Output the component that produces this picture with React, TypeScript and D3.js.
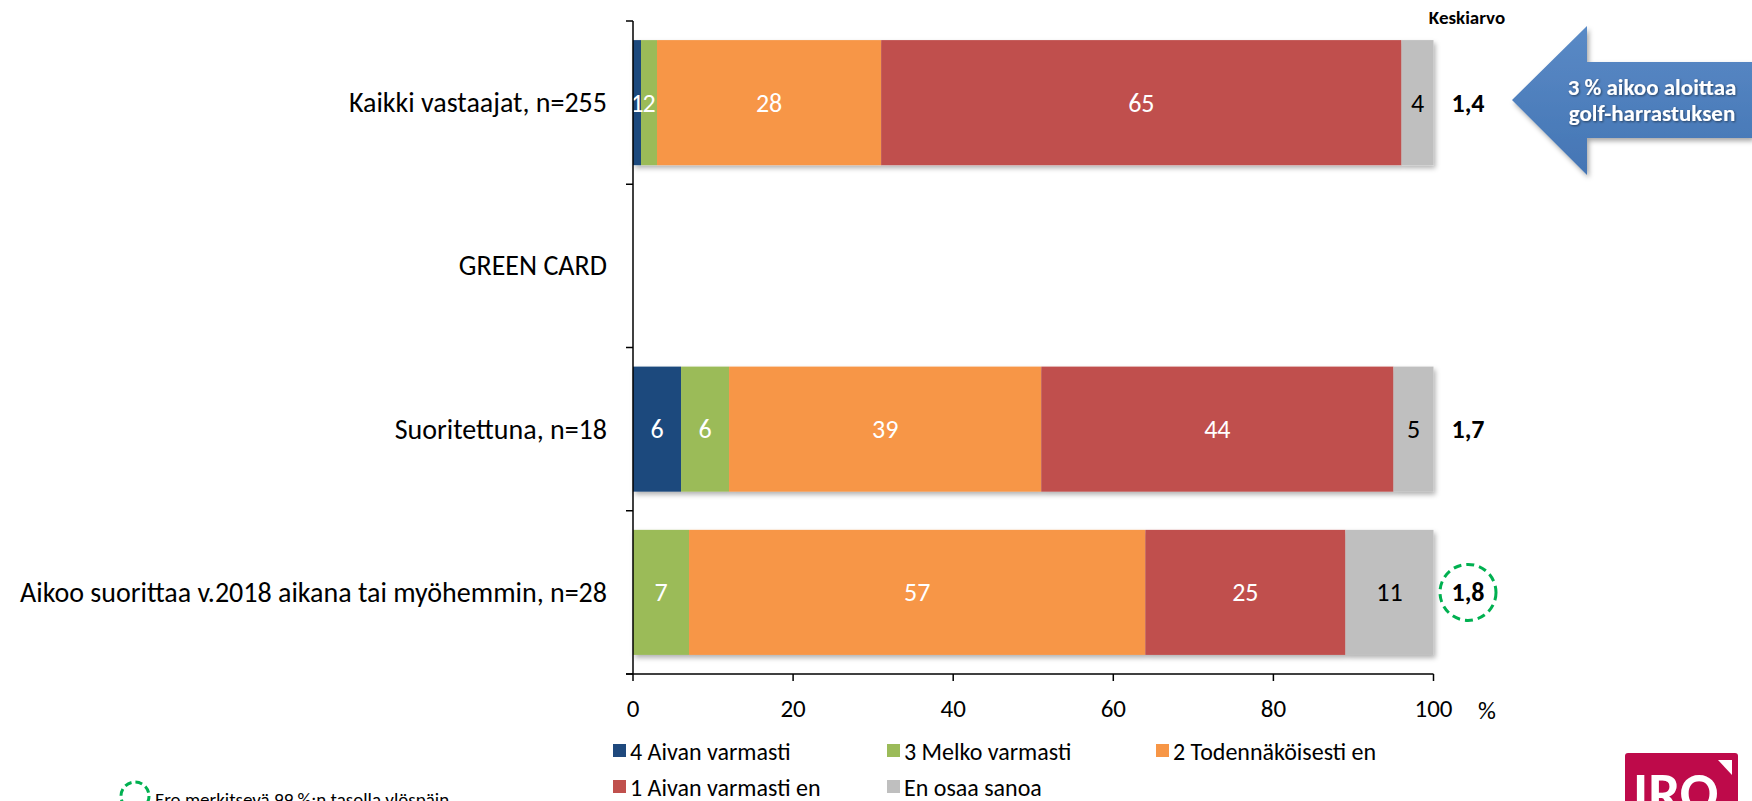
import React from "react";
import * as d3 from "d3";

const categories = [
  "Kaikki vastaajat, n=255",
  "GREEN CARD",
  "Suoritettuna, n=18",
  "Aikoo suorittaa v.2018 aikana tai myöhemmin, n=28",
];
const seriesNames = [
  "4 Aivan varmasti",
  "3 Melko varmasti",
  "2 Todennäköisesti en",
  "1 Aivan varmasti en",
  "En osaa sanoa",
];
const seriesColors = ["#1F497D", "#9BBB59", "#F79646", "#C0504D", "#BFBFBF"];
const labelColors = ["#fff", "#fff", "#fff", "#fff", "#000"];
// values per category (null = no bar)
const vals4 = [1, null, 6, 0];
const vals3 = [2, null, 6, 7];
const vals2 = [28, null, 39, 57];
const vals1 = [65, null, 44, 25];
const valsEos = [4, null, 5, 11];
const means = ["1,4", "", "1,7", "1,8"];
const significant = [false, false, false, true];
const xTicks = [0, 20, 40, 60, 80, 100];

const FONT = "Carlito, Lato, 'Open Sans', sans-serif";

export default function App() {
  const W = 1752;
  const H = 801;
  const x = d3.scaleLinear().domain([0, 100]).range([633, 1433.5]);
  const y = d3
    .scaleBand<string>()
    .domain(categories)
    .range([21, 674])
    .paddingInner(0.234)
    .paddingOuter(0.117);
  const tickY = d3
    .scaleLinear()
    .domain([0, categories.length])
    .range([21, 674]);
  const series = [vals4, vals3, vals2, vals1, valsEos];

  const bars: React.ReactNode[] = [];
  const labels: React.ReactNode[] = [];
  categories.forEach((cat, ci) => {
    let cum = 0;
    const y0 = y(cat)!;
    const bw = y.bandwidth();
    series.forEach((s, si) => {
      const v = s[ci];
      if (v == null) return;
      const x0 = x(cum);
      const x1 = x(cum + v);
      cum += v;
      if (v <= 0) return;
      bars.push(
        <rect
          key={`b${ci}-${si}`}
          x={x0}
          y={y0}
          width={x1 - x0}
          height={bw}
          fill={seriesColors[si]}
        />
      );
      labels.push(
        <text
          key={`l${ci}-${si}`}
          x={(x0 + x1) / 2}
          y={y0 + bw / 2}
          textAnchor="middle"
          dominantBaseline="central"
          fill={labelColors[si]}
          fontSize={26}
          fontFamily={FONT}
        >
          {v}
        </text>
      );
    });
  });

  const legendCols = [613, 887, 1156];
  const legendRows = [751, 787];

  return (
    <svg width={W} height={H} style={{ position: "absolute", left: 0, top: 0 }}>
      <defs>
        <filter id="sh" x="-5%" y="-20%" width="110%" height="150%">
          <feDropShadow dx="2" dy="3" stdDeviation="2.5" floodColor="#000" floodOpacity="0.3" />
        </filter>
        <filter id="ash" x="-10%" y="-10%" width="120%" height="130%">
          <feDropShadow dx="2" dy="3" stdDeviation="2.5" floodColor="#000" floodOpacity="0.35" />
        </filter>
        <filter id="tsh" x="-10%" y="-20%" width="120%" height="150%">
          <feDropShadow dx="1" dy="1" stdDeviation="0.8" floodColor="#000" floodOpacity="0.5" />
        </filter>
        <linearGradient id="ag" x1="0" y1="0" x2="0" y2="1">
          <stop offset="0" stopColor="#5A8AC6" />
          <stop offset="1" stopColor="#4475B4" />
        </linearGradient>
      </defs>
      <rect x={0} y={0} width={W} height={H} fill="#fff" />

      {/* bars */}
      <g filter="url(#sh)">{bars}</g>
      <g>{labels}</g>

      {/* y axis */}
      <line x1={633} x2={633} y1={tickY(0)} y2={tickY(4)} stroke="#000" strokeWidth={1.5} />
      {d3.range(0, 5).map((i) => (
        <line key={`yt${i}`} x1={626} x2={633} y1={tickY(i)} y2={tickY(i)} stroke="#000" strokeWidth={1.5} />
      ))}
      {/* x axis */}
      <line x1={626} x2={x(100)} y1={674} y2={674} stroke="#000" strokeWidth={1.5} />
      {xTicks.map((t) => (
        <g key={`xt${t}`}>
          <line x1={x(t)} x2={x(t)} y1={674} y2={681} stroke="#000" strokeWidth={1.5} />
          <text x={x(t)} y={708} textAnchor="middle" dominantBaseline="central" fontSize={25} fontFamily={FONT}>
            {t}
          </text>
        </g>
      ))}
      <text x={1487} y={710} textAnchor="middle" dominantBaseline="central" fontSize={25} fontFamily={FONT}>
        %
      </text>

      {/* category labels */}
      {categories.map((c) => (
        <text
          key={c}
          x={607}
          y={y(c)! + y.bandwidth() / 2}
          textAnchor="end"
          dominantBaseline="central"
          fontSize={28}
          fontFamily={FONT}
        >
          {c}
        </text>
      ))}

      {/* means */}
      <text x={1467} y={17} textAnchor="middle" dominantBaseline="central" fontSize={19} fontWeight="bold" fontFamily={FONT}>
        Keskiarvo
      </text>
      {categories.map((c, i) =>
        means[i] ? (
          <g key={`m${i}`}>
            <text
              x={1468}
              y={y(c)! + y.bandwidth() / 2}
              textAnchor="middle"
              dominantBaseline="central"
              fontSize={26}
              fontWeight="bold"
              fontFamily={FONT}
            >
              {means[i]}
            </text>
            {significant[i] && (
              <circle
                cx={1468}
                cy={y(c)! + y.bandwidth() / 2}
                r={28}
                fill="none"
                stroke="#00B050"
                strokeWidth={3}
                strokeDasharray="8 5"
              />
            )}
          </g>
        ) : null
      )}

      {/* arrow */}
      <g filter="url(#ash)">
        <polygon
          points="1512,100 1587,26 1587,62 1752,62 1752,138 1587,138 1587,175"
          fill="url(#ag)"
        />
      </g>
      <g filter="url(#tsh)" fill="#fff" fontWeight="bold" fontSize={23} fontFamily={FONT} textAnchor="middle">
        <text x={1652} y={87} dominantBaseline="central">3 % aikoo aloittaa</text>
        <text x={1652} y={113} dominantBaseline="central">golf-harrastuksen</text>
      </g>

      {/* legend */}
      {seriesNames.map((n, i) => {
        const col = i % 3;
        const row = Math.floor(i / 3);
        const lx = legendCols[col];
        const ly = legendRows[row];
        return (
          <g key={n}>
            <rect x={lx} y={ly - 7} width={13} height={13} fill={seriesColors[i]} />
            <text x={lx + 17} y={ly} dominantBaseline="central" fontSize={24} fontFamily={FONT}>
              {n}
            </text>
          </g>
        );
      })}

      {/* footnote */}
      <circle cx={135} cy={796} r={14} fill="none" stroke="#00B050" strokeWidth={3} strokeDasharray="7 4" />
      <text x={155} y={806} fontSize={19} fontFamily={FONT}>
        Ero merkitsevä 99 %:n tasolla ylöspäin
      </text>

      {/* logo */}
      <rect x={1625} y={753} width={113} height={60} rx={3} fill="#BE0A4A" />
      <polygon points="1718,760 1732,760 1732,775" fill="#fff" />
      <text x={1633} y={812} fill="#fff" fontSize={57} fontWeight="bold" fontFamily={FONT}>
        IRO
      </text>
    </svg>
  );
}
